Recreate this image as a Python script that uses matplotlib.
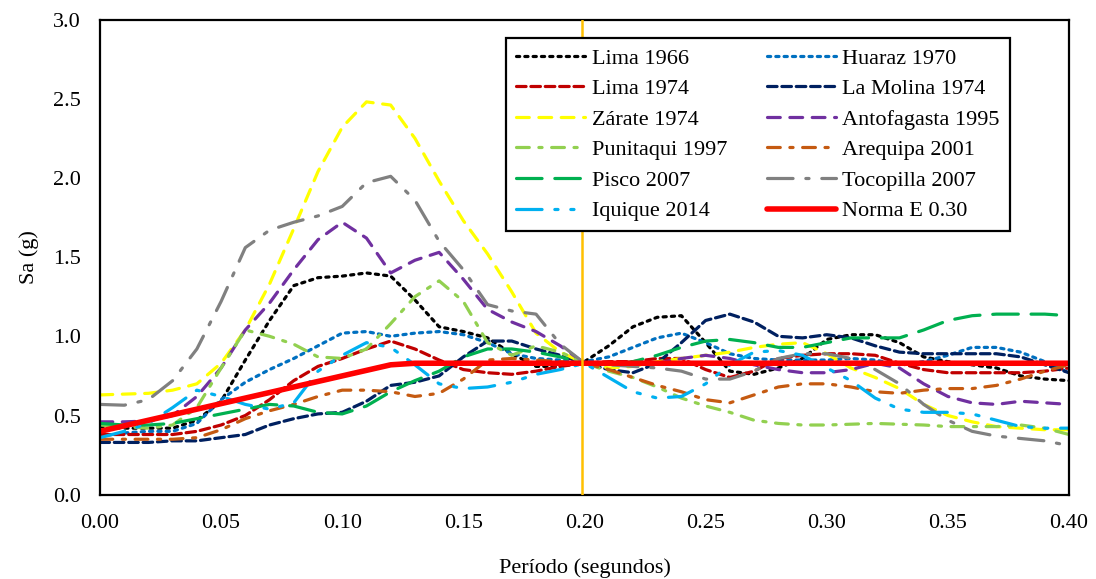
import matplotlib.pyplot as plt
import numpy as np

# Periods (s) at which each spectrum was read
periods = np.round(np.arange(0.0, 0.401, 0.01), 2)

lima_1966 = [0.43, 0.42, 0.42, 0.42, 0.47, 0.59, 0.85, 1.10, 1.32, 1.37,
             1.38, 1.40, 1.38, 1.23, 1.06, 1.03, 0.99, 0.89, 0.81, 0.81,
             0.84, 0.94, 1.06, 1.12, 1.13, 0.96, 0.78, 0.76, 0.80, 0.86,
             0.98, 1.01, 1.01, 0.96, 0.87, 0.84, 0.82, 0.80, 0.75, 0.73, 0.72]
huaraz_1970 = [0.37, 0.39, 0.40, 0.40, 0.45, 0.60, 0.71, 0.79, 0.86, 0.94,
               1.02, 1.03, 1.00, 1.02, 1.03, 1.01, 0.96, 0.89, 0.86, 0.85,
               0.84, 0.87, 0.93, 0.99, 1.02, 0.96, 0.89, 0.86, 0.85, 0.85,
               0.85, 0.86, 0.85, 0.82, 0.84, 0.88, 0.93, 0.93, 0.90, 0.84, 0.77]
lima_1974 = [0.38, 0.38, 0.38, 0.38, 0.40, 0.44, 0.50, 0.60, 0.72, 0.81,
             0.86, 0.92, 0.97, 0.92, 0.85, 0.79, 0.77, 0.76, 0.78, 0.81,
             0.83, 0.84, 0.84, 0.86, 0.86, 0.79, 0.74, 0.78, 0.86, 0.88,
             0.89, 0.89, 0.88, 0.83, 0.79, 0.77, 0.77, 0.77, 0.77, 0.78, 0.80]
la_molina_1974 = [0.33, 0.33, 0.33, 0.34, 0.34, 0.36, 0.38, 0.44, 0.48, 0.51,
                  0.52, 0.59, 0.69, 0.71, 0.75, 0.87, 0.97, 0.97, 0.92, 0.88,
                  0.83, 0.79, 0.77, 0.83, 0.96, 1.10, 1.14, 1.09, 1.00, 0.99,
                  1.01, 0.99, 0.94, 0.90, 0.89, 0.89, 0.89, 0.89, 0.87, 0.82, 0.77]
zarate_1974 = [0.63, 0.635, 0.64, 0.66, 0.70, 0.83, 1.04, 1.33, 1.68, 2.04,
               2.32, 2.48, 2.46, 2.25, 1.98, 1.73, 1.52, 1.28, 1.02, 0.90,
               0.83, 0.80, 0.81, 0.84, 0.86, 0.88, 0.90, 0.93, 0.95, 0.96,
               0.89, 0.80, 0.74, 0.67, 0.57, 0.50, 0.46, 0.43, 0.42, 0.41, 0.41]
antofagasta_1995 = [0.46, 0.46, 0.465, 0.50, 0.62, 0.80, 1.04, 1.21, 1.42, 1.61,
                    1.72, 1.62, 1.40, 1.48, 1.53, 1.36, 1.17, 1.09, 1.03, 0.94,
                    0.83, 0.83, 0.82, 0.83, 0.86, 0.88, 0.86, 0.82, 0.79, 0.77,
                    0.77, 0.79, 0.83, 0.80, 0.70, 0.62, 0.58, 0.57, 0.59, 0.58, 0.57]
punitaqui_1997 = [0.44, 0.43, 0.42, 0.44, 0.55, 0.80, 1.04, 1.00, 0.95, 0.87,
                  0.86, 0.92, 1.08, 1.25, 1.35, 1.22, 0.96, 0.88, 0.94, 0.90,
                  0.83, 0.78, 0.74, 0.68, 0.61, 0.56, 0.52, 0.47, 0.45, 0.44,
                  0.44, 0.445, 0.45, 0.445, 0.44, 0.43, 0.43, 0.43, 0.44, 0.42, 0.38]
arequipa_2001 = [0.35, 0.35, 0.35, 0.35, 0.36, 0.41, 0.48, 0.53, 0.57, 0.62,
                 0.66, 0.66, 0.65, 0.62, 0.64, 0.73, 0.85, 0.86, 0.85, 0.84,
                 0.83, 0.79, 0.74, 0.69, 0.65, 0.60, 0.58, 0.63, 0.68, 0.70,
                 0.70, 0.68, 0.65, 0.64, 0.66, 0.67, 0.67, 0.69, 0.73, 0.78, 0.82]
pisco_2007 = [0.45, 0.44, 0.44, 0.45, 0.48, 0.51, 0.54, 0.57, 0.56, 0.52,
              0.51, 0.56, 0.65, 0.72, 0.78, 0.87, 0.92, 0.92, 0.90, 0.87,
              0.83, 0.82, 0.84, 0.88, 0.93, 0.97, 0.98, 0.96, 0.93, 0.93,
              0.96, 0.99, 0.99, 0.99, 1.04, 1.10, 1.13, 1.14, 1.14, 1.14, 1.13]
tocopilla_2007 = [0.57, 0.565, 0.60, 0.72, 0.92, 1.22, 1.56, 1.67, 1.72, 1.76,
                  1.82, 1.97, 2.01, 1.86, 1.60, 1.42, 1.20, 1.16, 1.14, 0.95,
                  0.83, 0.82, 0.81, 0.80, 0.78, 0.73, 0.73, 0.78, 0.86, 0.89,
                  0.89, 0.86, 0.79, 0.70, 0.57, 0.47, 0.40, 0.37, 0.355, 0.34, 0.31]
iquique_2014 = [0.36, 0.40, 0.45, 0.55, 0.66, 0.62, 0.57, 0.54, 0.58, 0.78,
                0.88, 0.96, 0.93, 0.82, 0.70, 0.67, 0.68, 0.71, 0.76, 0.79,
                0.83, 0.74, 0.65, 0.61, 0.62, 0.70, 0.82, 0.90, 0.91, 0.88,
                0.80, 0.72, 0.61, 0.54, 0.52, 0.52, 0.51, 0.47, 0.43, 0.42, 0.42]

# Design spectrum (Norma E.030)
norma_periods = [0.0, 0.12, 0.13, 0.40]
norma_sa = [0.40, 0.82, 0.83, 0.83]

ref_period = 0.199

series = [
    ("Lima 1966", lima_1966, "#000000", (0, (1, 1.6))),
    ("Huaraz 1970", huaraz_1970, "#0070C0", (0, (1, 1.6))),
    ("Lima 1974", lima_1974, "#C00000", (0, (3, 1.5))),
    ("La Molina 1974", la_molina_1974, "#002060", (0, (3, 1.5))),
    ("Zárate 1974", zarate_1974, "#FFFF00", (0, (4, 3))),
    ("Antofagasta 1995", antofagasta_1995, "#7030A0", (0, (4, 3))),
    ("Punitaqui 1997", punitaqui_1997, "#92D050", (0, (4, 3, 1, 3))),
    ("Arequipa 2001", arequipa_2001, "#C55A11", (0, (4, 3, 1, 3))),
    ("Pisco 2007", pisco_2007, "#00B050", (0, (8, 4))),
    ("Tocopilla 2007", tocopilla_2007, "#808080", (0, (8, 4, 1, 4))),
    ("Iquique 2014", iquique_2014, "#00B0F0", (0, (8, 4, 1, 4, 1, 4))),
]

plt.rcParams['font.family'] = ['Liberation Serif', 'DejaVu Serif']
plt.rcParams['font.size'] = 16

fig = plt.figure(figsize=(10.96, 5.79), dpi=100)
ax = fig.add_axes([0.0912, 0.1456, 0.8842, 0.8207])

handles = []
for name, vals, color, ls in series:
    ln, = ax.plot(periods, vals, color=color, linestyle=ls, linewidth=2.3,
                  label=name, dash_capstyle='round', solid_capstyle='round')
    handles.append(ln)

ln, = ax.plot(norma_periods, norma_sa, color="#FF0000", linewidth=4,
              label="Norma E 0.30", solid_capstyle='round')
handles.append(ln)

ax.axvline(ref_period, color="#FFC000", linewidth=1.8, zorder=5)

ax.set_xlim(0, 0.40)
ax.set_ylim(0, 3.0)
ax.set_xticks(np.arange(0, 0.401, 0.05))
ax.set_xticklabels([f"{v:.2f}" for v in np.arange(0, 0.401, 0.05)])
ax.set_yticks(np.arange(0, 3.01, 0.5))
ax.set_yticklabels([f"{v:.1f}" for v in np.arange(0, 3.01, 0.5)])
ax.tick_params(axis='both', length=0, labelsize=16)
ax.tick_params(axis='y', pad=14)
ax.tick_params(axis='x', pad=14)
for sp in ax.spines.values():
    sp.set_linewidth(1.6)
    sp.set_color("black")

ax.set_xlabel("Período (segundos)", fontsize=16, labelpad=18)
ax.set_ylabel("Sa (g)", fontsize=16, labelpad=10)

# legend is filled column by column, so put entries in row order
order = list(range(0, 12, 2)) + list(range(1, 12, 2))
leg = ax.legend([handles[i] for i in order],
                [handles[i].get_label() for i in order],
                ncol=2, loc='upper left', bbox_to_anchor=(0.419, 0.961),
                borderaxespad=0, fontsize=16, frameon=True, fancybox=False,
                edgecolor="black", framealpha=1, handlelength=3.1,
                handletextpad=0.3, columnspacing=1.8, labelspacing=0.45,
                borderpad=0.45)
leg.get_frame().set_linewidth(1.6)
leg.set_zorder(10)

fig.savefig("out.png", dpi=100)
